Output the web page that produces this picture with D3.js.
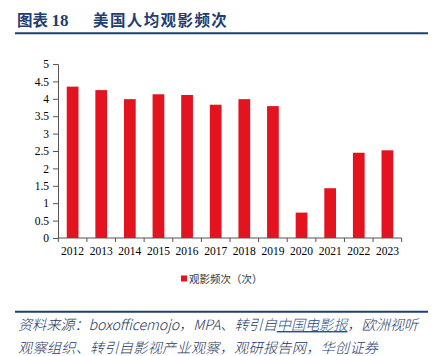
<!DOCTYPE html>
<html><head><meta charset="utf-8">
<script src="https://cdn.jsdelivr.net/npm/d3@7"></script>
<style>body{margin:0;background:#fff}svg{display:block}</style>
</head><body>
<svg id="c" width="440" height="356"></svg>
<script>
const categories = ["2012","2013","2014","2015","2016","2017","2018","2019","2020","2021","2022","2023"];
const values = [4.35, 4.25, 3.99, 4.13, 4.11, 3.83, 3.99, 3.79, 0.73, 1.43, 2.45, 2.52];
const yTicks = [0, 0.5, 1, 1.5, 2, 2.5, 3, 3.5, 4, 4.5, 5];
const seriesName = "观影频次（次）";
const titleText = "图表 ";
const titleNum = "18";
const titleMain = "美国人均观影频次";
const sourceLine1 = ["资料来源：boxofficemojo，MPA、转引自", "中国电影报", "，欧洲视听"];
const sourceLine2 = "观察组织、转引自影视产业观察，观研报告网，华创证券";

const svg = d3.select("#c");
const navy = "#1f3e72";
const x = d3.scaleBand().domain(categories).range([58.3, 401.7]).paddingInner(0.59).paddingOuter(0.295);
const y = d3.scaleLinear().domain([0, 5]).range([238, 64]);

// title
const t = svg.append("text").attr("x", 17).attr("y", 26)
  .attr("font-family", "'Noto Sans CJK SC'").attr("font-weight", "bold")
  .attr("font-size", 15.5).attr("fill", navy);
t.append("tspan").text(titleText);
t.append("tspan").attr("font-family", "'Liberation Serif'").attr("font-size", 17).text(titleNum);
t.append("tspan").attr("x", 93).attr("letter-spacing", 1.4).text(titleMain);
svg.append("line").attr("x1", 15).attr("x2", 428).attr("y1", 33.3).attr("y2", 33.3)
  .attr("stroke", navy).attr("stroke-width", 2);

// bars
svg.append("g").selectAll("rect").data(categories).join("rect")
  .attr("x", d => x(d)).attr("width", x.bandwidth())
  .attr("y", (d, i) => y(values[i])).attr("height", (d, i) => y(0) - y(values[i]))
  .attr("fill", "#e3141f");

// y axis
const yAxis = svg.append("g").attr("transform", "translate(58,0)")
  .call(d3.axisLeft(y).tickValues(yTicks).tickSize(5).tickPadding(4).tickFormat(d3.format("")));
yAxis.selectAll("text").attr("font-family", "'Liberation Serif'").attr("font-size", 11.5).attr("fill", "#000");
yAxis.selectAll("line,path").attr("stroke", "#555");

// x axis
const xAxis = svg.append("g").attr("transform", "translate(0,238)")
  .call(d3.axisBottom(x).tickSize(0).tickPadding(9));
xAxis.selectAll("text").attr("font-family", "'Liberation Serif'").attr("font-size", 11.5).attr("fill", "#000");
xAxis.select("path").attr("stroke", "#555").attr("d", "M58.3,0H401.7");
const step = x.step();
xAxis.selectAll(".sep").data(d3.range(categories.length + 1)).join("line").attr("class", "sep")
  .attr("x1", i => 58.3 + i * step).attr("x2", i => 58.3 + i * step)
  .attr("y1", 0).attr("y2", 4).attr("stroke", "#555");

// legend
svg.append("rect").attr("x", 181).attr("y", 275.5).attr("width", 6).attr("height", 6).attr("fill", "#e3141f");
svg.append("text").attr("x", 189).attr("y", 282.5).attr("font-family", "'Noto Sans CJK SC'")
  .attr("font-size", 10.5).attr("fill", "#333").text(seriesName);

// source
svg.append("line").attr("x1", 15).attr("x2", 428).attr("y1", 311.7).attr("y2", 311.7)
  .attr("stroke", navy).attr("stroke-width", 2);
const s1 = svg.append("text").attr("x", 18).attr("y", 330).attr("font-family", "'Noto Sans CJK SC'")
  .attr("font-style", "italic").attr("font-weight", 300).attr("font-size", 14.2).attr("fill", "#1e3760")
  .attr("textLength", 400).attr("lengthAdjust", "spacing");
s1.append("tspan").text(sourceLine1[0]);
s1.append("tspan").attr("text-decoration", "underline").attr("fill", "#2a4f8a").text(sourceLine1[1]);
s1.append("tspan").text(sourceLine1[2]);
svg.append("text").attr("x", 18).attr("y", 353).attr("font-family", "'Noto Sans CJK SC'")
  .attr("font-style", "italic").attr("font-weight", 300).attr("font-size", 14.2).attr("fill", "#1e3760")
  .attr("textLength", 360).attr("lengthAdjust", "spacing").text(sourceLine2);
</script>
</body></html>
